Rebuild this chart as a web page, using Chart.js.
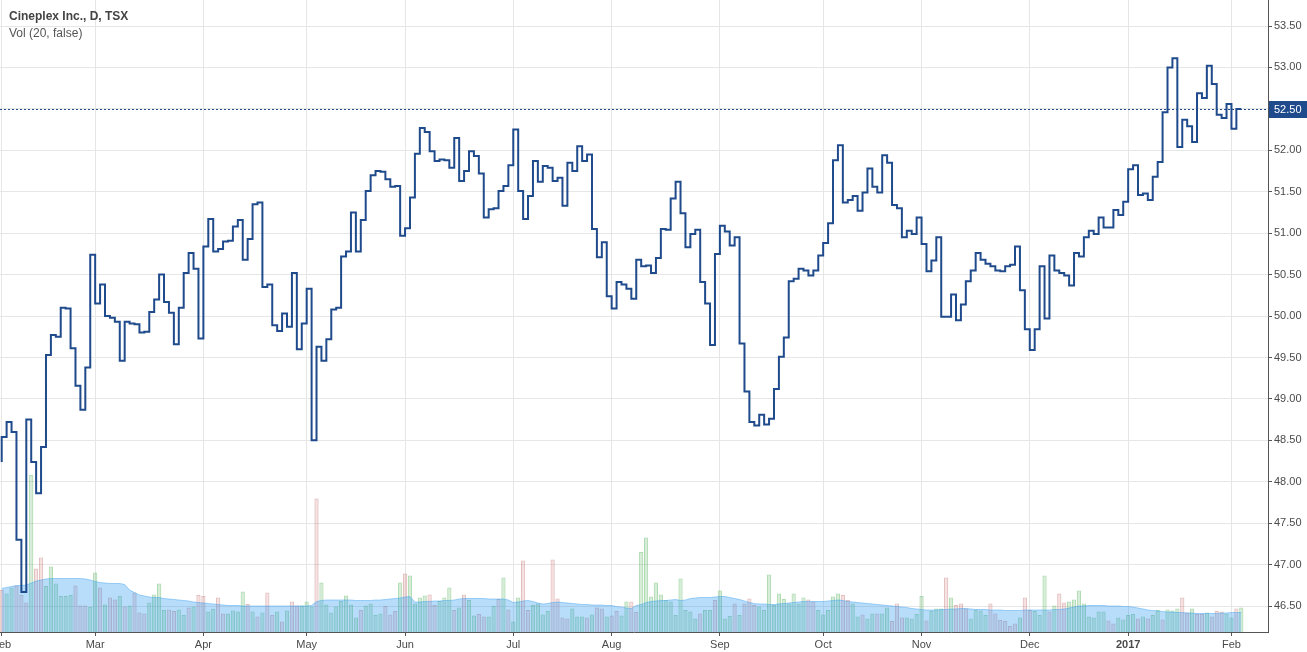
<!DOCTYPE html>
<html>
<head>
<meta charset="utf-8">
<script src="https://cdn.jsdelivr.net/npm/chart.js@4.4.1/dist/chart.umd.min.js"></script>
<style>
  html, body { margin: 0; padding: 0; background: #ffffff; }
  #wrap { width: 1307px; height: 652px; position: relative; }
</style>
</head>
<body>
<div id="wrap"><canvas id="c" width="1307" height="652"></canvas></div>
<script>
// ---- Data (daily bars, Feb 1 2016 .. Feb 3 2017) ----
const seriesTitle = 'Cineplex Inc., D, TSX';
const volumeTitle = 'Vol (20, false)';

const close = [
  48.24, 48.54, 48.72, 48.60, 47.30, 46.67, 48.75, 48.24, 47.86, 48.42,
  49.53, 49.77, 49.75, 50.10, 50.09, 49.61, 49.16, 48.87, 49.38, 50.74,
  50.15, 50.38, 50.00, 49.98, 49.93, 49.46, 49.93, 49.91, 49.90, 49.80,
  49.81, 50.05, 50.20, 50.50, 50.17, 50.04, 49.66, 50.10, 50.52, 50.76,
  50.57, 49.73, 50.84, 51.17, 50.78, 50.81, 50.90, 50.91, 51.08, 51.16,
  50.68, 50.93, 51.35, 51.37, 50.35, 50.38, 49.89, 49.82, 50.03, 49.87,
  50.52, 49.60, 49.91, 50.33, 48.50, 49.63, 49.46, 49.72, 50.08, 50.10,
  50.72, 50.78, 51.25, 50.78, 51.16, 51.51, 51.70, 51.75, 51.74, 51.65,
  51.56, 51.57, 50.97, 51.06, 51.43, 51.96, 52.27, 52.22, 51.99, 51.87,
  51.89, 51.88, 51.79, 52.15, 51.63, 51.75, 51.99, 51.93, 51.72, 51.19,
  51.29, 51.30, 51.51, 51.57, 51.82, 52.25, 51.51, 51.17, 51.45, 51.87,
  51.62, 51.81, 51.79, 51.63, 51.67, 51.33, 51.85, 51.75, 52.05, 51.87,
  51.95, 51.05, 50.71, 50.89, 50.24, 50.09, 50.41, 50.38, 50.33, 50.21,
  50.68, 50.60, 50.61, 50.52, 50.70, 51.05, 51.04, 51.42, 51.62, 51.24,
  50.83, 50.99, 51.04, 50.41, 50.15, 49.65, 50.75, 51.09, 51.02, 50.85,
  50.95, 49.67, 49.09, 48.72, 48.68, 48.81, 48.69, 48.76, 49.12, 49.51,
  49.74, 50.42, 50.45, 50.57, 50.55, 50.49, 50.55, 50.73, 50.88, 51.12,
  51.88, 52.06, 51.37, 51.40, 51.45, 51.27, 51.49, 51.78, 51.56, 51.49,
  51.94, 51.85, 51.34, 51.30, 50.95, 51.03, 50.99, 51.19, 50.87, 50.54,
  50.67, 50.95, 49.99, 49.99, 50.26, 49.95, 50.14, 50.42, 50.55, 50.76,
  50.68, 50.63, 50.60, 50.55, 50.54, 50.60, 50.62, 50.84, 50.31, 49.84,
  49.59, 49.84, 50.60, 49.97, 50.73, 50.55, 50.52, 50.49, 50.37, 50.76,
  50.72, 50.95, 51.03, 50.99, 51.19, 51.07, 51.07, 51.28, 51.22, 51.38,
  51.77, 51.82, 51.46, 51.48, 51.40, 51.68, 51.86, 52.46, 53.00, 53.11,
  52.04, 52.37, 52.29, 52.10, 52.69, 52.63, 53.02, 52.80, 52.43, 52.39,
  52.56, 52.26, 52.50
];

// volume, thousands of shares
const volume = [
  84, 77, 89, 93, 74, 59, 314, 127, 149, 92,
  131, 97, 72, 72, 74, 93, 53, 53, 50, 119,
  89, 55, 69, 65, 72, 51, 53, 79, 39, 37,
  59, 75, 97, 44, 45, 42, 45, 34, 49, 51,
  74, 72, 41, 46, 69, 37, 37, 43, 41, 81,
  56, 41, 31, 39, 79, 34, 41, 21, 43, 61,
  53, 53, 61, 51, 267, 99, 55, 39, 51, 62,
  73, 55, 29, 44, 53, 57, 34, 37, 52, 35,
  42, 99, 117, 113, 57, 69, 73, 75, 54, 62,
  69, 89, 44, 49, 75, 64, 33, 36, 31, 31,
  52, 66, 109, 45, 21, 69, 143, 44, 54, 57,
  35, 42, 145, 67, 29, 27, 47, 31, 31, 29,
  35, 49, 47, 31, 33, 42, 33, 61, 61, 40,
  160, 189, 71, 99, 75, 64, 61, 34, 107, 44,
  41, 27, 37, 44, 44, 64, 83, 27, 32, 57,
  34, 57, 67, 54, 51, 44, 115, 54, 77, 66,
  57, 77, 57, 69, 65, 61, 44, 35, 44, 71,
  77, 74, 64, 57, 31, 35, 27, 37, 37, 37,
  49, 22, 57, 29, 29, 27, 36, 72, 23, 42,
  47, 47, 109, 69, 54, 57, 47, 27, 44, 43,
  34, 57, 37, 24, 22, 12, 17, 29, 69, 44,
  42, 34, 113, 41, 53, 77, 59, 61, 65, 83,
  57, 31, 29, 41, 41, 23, 17, 29, 25, 34,
  36, 27, 31, 27, 34, 44, 25, 45, 43, 47,
  69, 39, 47, 36, 36, 39, 31, 42, 41, 37,
  29, 47, 49
];

// 1 = up-volume bar (green), 0 = down-volume bar (red)
const volUp = [
  0,1,1,0,0,0,1,0,0,1,
  1,1,1,1,1,0,0,0,1,1,
  0,1,0,0,1,0,1,0,0,0,
  1,1,1,1,0,0,1,1,0,1,
  0,0,1,1,0,0,1,1,1,1,
  0,1,0,1,0,0,1,0,1,0,
  0,1,1,1,0,1,1,1,1,1,
  1,1,1,0,1,1,1,1,0,0,
  0,1,0,1,1,1,1,0,0,1,
  1,1,0,1,0,1,1,0,0,1,
  1,0,1,0,1,1,0,0,1,1,
  1,1,0,0,0,0,1,1,1,0,
  1,0,0,1,0,0,1,1,0,0,
  1,1,1,1,1,1,1,1,1,1,
  1,1,0,1,1,0,1,1,1,0,
  1,0,0,0,1,1,1,1,1,1,
  1,1,1,1,0,0,1,1,1,1,
  1,0,0,1,1,0,1,1,0,1,
  1,0,0,0,1,1,1,1,0,1,
  1,1,0,1,0,0,0,1,1,1,
  1,0,0,0,0,0,0,1,0,0,
  1,1,1,0,1,0,0,1,1,1,
  1,1,1,1,1,0,0,1,1,1,
  1,0,1,0,1,1,0,1,1,1,
  0,0,1,0,0,1,0,0,0,1,
  1,0,1
];

// 20-day volume moving average, read from the shaded area
const volMA = [
  87, 89, 91, 93, 93, 94, 98, 102, 104, 106,
  107, 107, 107, 107, 107, 107, 107, 106, 104, 101,
  99, 98, 97, 97, 97, 95, 84, 79, 74, 72,
  70, 69, 69, 67, 66, 65, 64, 63, 62, 60,
  59, 58, 57, 56, 55, 54, 53, 53, 53, 52,
  52, 52, 52, 52, 52, 52, 52, 52, 52, 52,
  52, 52, 52, 53, 61, 63, 64, 64, 64, 64,
  64, 64, 63, 63, 63, 63, 64, 64, 65, 66,
  67, 68, 70, 71, 60, 60, 61, 61, 62, 62,
  63, 63, 64, 66, 67, 67, 67, 67, 67, 66,
  66, 66, 66, 64, 59, 60, 62, 63, 61, 58,
  56, 57, 59, 60, 59, 58, 57, 56, 55, 55,
  54, 54, 54, 53, 53, 51, 50, 48, 47, 53,
  55, 59, 61, 62, 63, 63, 64, 65, 63, 64,
  67, 68, 69, 69, 69, 70, 71, 71, 69, 67,
  65, 62, 59, 57, 56, 56, 55, 55, 56, 57,
  58, 59, 60, 61, 61, 61, 61, 61, 62, 63,
  64, 63, 61, 60, 59, 58, 57, 56, 55, 54,
  53, 52, 51, 50, 49, 47, 46, 45, 44, 44,
  44, 45, 45, 46, 46, 47, 47, 46, 45, 45,
  45, 44, 44, 44, 43, 43, 43, 43, 44, 44,
  44, 44, 44, 44, 45, 45, 46, 48, 50, 52,
  52, 53, 53, 53, 53, 52, 52, 52, 51, 51,
  50, 48, 46, 44, 43, 42, 41, 40, 40, 39,
  39, 38, 38, 37, 37, 37, 37, 37, 38, 38,
  39, 39, 39
];

// first trading bar of each month and its axis label
const monthTickIdx    = [0, 19, 41, 62, 82, 104, 124, 146, 167, 187, 209, 229, 250];
const monthTickLabels = ['Feb','Mar','Apr','May','Jun','Jul','Aug','Sep','Oct','Nov','Dec','2017','Feb'];

// ---- Styling ----
const LINE = '#1f4a8c';
const AXIS_FONT = '"Liberation Sans", Arial, sans-serif';
const TEXT = '#4a4a4a';
const GRID = '#e6e6e6';
const AXIS = '#555555';

const overlay = {
  id: 'overlay',
  beforeDatasetsDraw(chart) {
    const ctx = chart.ctx, ca = chart.chartArea, ys = chart.scales.y;
    const py = Math.round(ys.getPixelForValue(close[close.length - 1])) + 0.5;
    ctx.save();
    ctx.strokeStyle = LINE;
    ctx.lineWidth = 1;
    ctx.setLineDash([2, 2]);
    ctx.beginPath();
    ctx.moveTo(ca.left, py);
    ctx.lineTo(ca.right, py);
    ctx.stroke();
    ctx.restore();
  },
  afterDraw(chart) {
    const ctx = chart.ctx, ca = chart.chartArea, ys = chart.scales.y;
    const last = close[close.length - 1];
    const py = Math.round(ys.getPixelForValue(last));
    ctx.save();
    ctx.fillStyle = LINE;
    ctx.fillRect(ca.right + 1, py - 8, chart.width - ca.right - 1, 17);
    ctx.fillStyle = '#ffffff';
    ctx.font = '11px ' + AXIS_FONT;
    ctx.textBaseline = 'middle';
    ctx.textAlign = 'left';
    ctx.fillText(last.toFixed(2), ca.right + 6, py + 1);
    // legend texts
    ctx.fillStyle = '#444444';
    ctx.textBaseline = 'alphabetic';
    ctx.font = 'bold 12px ' + AXIS_FONT;
    ctx.fillText(seriesTitle, 9, 20);
    ctx.fillStyle = '#555555';
    ctx.font = '12px ' + AXIS_FONT;
    ctx.fillText(volumeTitle, 9, 37);
    ctx.restore();
  }
};

const pricePts = close.map((v, i) => ({ x: i, y: v }));
const volPts = volume.map((v, i) => ({ x: i, y: v }));
const maPts = volMA.map((v, i) => ({ x: i, y: v }));

new Chart(document.getElementById('c'), {
  type: 'line',
  data: {
    datasets: [
      {
        type: 'line',
        data: pricePts,
        xAxisID: 'x', yAxisID: 'y',
        borderColor: LINE,
        borderWidth: 2,
        stepped: 'after',
        pointRadius: 0,
        fill: false,
        order: 0
      },
      {
        type: 'line',
        data: maPts,
        xAxisID: 'x', yAxisID: 'yv',
        borderColor: 'rgba(60,160,240,0.45)',
        borderWidth: 1,
        backgroundColor: 'rgba(33,150,243,0.32)',
        fill: 'start',
        pointRadius: 0,
        tension: 0,
        order: 1
      },
      {
        type: 'bar',
        data: volPts,
        xAxisID: 'x', yAxisID: 'yv',
        backgroundColor: volUp.map(u => u ? 'rgba(76,175,80,0.22)' : 'rgba(214,120,120,0.22)'),
        borderColor: volUp.map(u => u ? 'rgba(76,175,80,0.45)' : 'rgba(190,110,110,0.45)'),
        borderWidth: 1,
        barPercentage: 1,
        categoryPercentage: 0.86,
        order: 2
      }
    ]
  },
  options: {
    responsive: false,
    animation: false,
    devicePixelRatio: 1,
    layout: { padding: 0 },
    plugins: { legend: { display: false }, tooltip: { enabled: false }, title: { display: false } },
    events: [],
    scales: {
      x: {
        type: 'linear',
        position: 'bottom',
        min: -0.346,
        max: 257.43,
        offset: false,
        grid: { color: GRID, offset: false, tickColor: AXIS, tickLength: 4, drawTicks: true },
        border: { color: AXIS, width: 1 },
        afterBuildTicks: (s) => { s.ticks = monthTickIdx.map(v => ({ value: v })); },
        ticks: {
          autoSkip: false,
          maxRotation: 0,
          minRotation: 0,
          padding: 2,
          color: TEXT,
          font: (c) => ({ family: AXIS_FONT, size: 11, weight: monthTickLabels[c.index] === '2017' ? 'bold' : 'normal' }),
          callback: (v) => { const k = monthTickIdx.indexOf(v); return k >= 0 ? monthTickLabels[k] : ''; }
        },
        afterFit: (s) => { s.height = 20; s.paddingLeft = 0; s.paddingRight = 0; }
      },
      y: {
        type: 'linear',
        position: 'right',
        min: 46.187,
        max: 53.814,
        grid: { color: GRID, tickColor: AXIS, tickLength: 4 },
        border: { color: AXIS, width: 1 },
        ticks: {
          stepSize: 0.5,
          includeBounds: false,
          padding: 2,
          color: TEXT,
          font: { family: AXIS_FONT, size: 11 },
          callback: (v) => Number(v).toFixed(2)
        },
        afterFit: (s) => { s.width = 39; s.paddingTop = 0; s.paddingBottom = 0; }
      },
      yv: {
        type: 'linear',
        display: false,
        min: 0,
        max: 1264
      }
    }
  },
  plugins: [overlay]
});
</script>
</body>
</html>
